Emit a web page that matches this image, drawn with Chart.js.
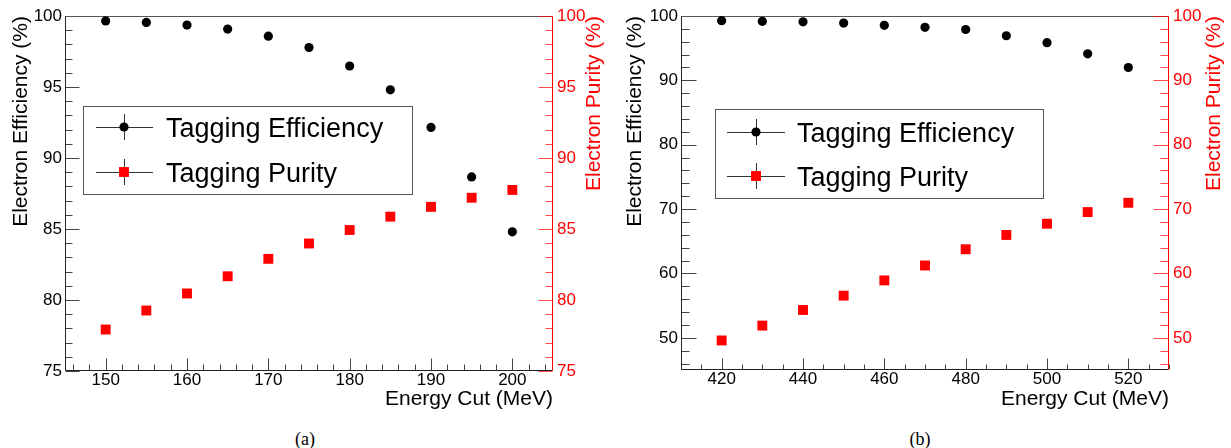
<!DOCTYPE html>
<html>
<head>
<meta charset="utf-8">
<script src="https://cdn.jsdelivr.net/npm/chart.js@4.4.0/dist/chart.umd.min.js"></script>
<style>
  body { margin: 0; background: #fff; width: 1231px; height: 448px; position: relative; overflow: hidden; }
  .panel { position: absolute; top: 0; }
  #panelA { left: 0; }
  #panelB { left: 606px; }
  .caption { position: absolute; top: 428px; font-family: 'Liberation Serif', 'DejaVu Serif', serif; font-size: 18px; line-height: 22px; transform: translateX(-50%); }
</style>
</head>
<body>
<div class="panel" id="panelA"><canvas id="chartA" width="605" height="412"></canvas></div>
<div class="panel" id="panelB"><canvas id="chartB" width="625" height="412"></canvas></div>
<div class="caption" style="left:305px">(a)</div>
<div class="caption" style="left:920px">(b)</div>
<script>
// panel (a)
const energyA = [150, 155, 160, 165, 170, 175, 180, 185, 190, 195, 200];
const effA = [99.65, 99.55, 99.36, 99.08, 98.58, 97.78, 96.48, 94.8, 92.15, 88.67, 84.8];
const purA = [77.92, 79.26, 80.46, 81.67, 82.9, 83.98, 84.93, 85.87, 86.56, 87.2, 87.75];
const xTicksA = [150, 160, 170, 180, 190, 200];
const yTicksA = [75, 80, 85, 90, 95, 100];

// panel (b)
const energyB = [420, 430, 440, 450, 460, 470, 480, 490, 500, 510, 520];
const effB = [99.27, 99.17, 99.1, 98.9, 98.55, 98.24, 97.9, 96.93, 95.85, 94.13, 92.0];
const purB = [49.59, 51.9, 54.33, 56.55, 58.92, 61.24, 63.76, 65.98, 67.73, 69.54, 70.98];
const xTicksB = [420, 440, 460, 480, 500, 520];
const yTicksB = [50, 60, 70, 80, 90, 100];

const FONT = "'Liberation Sans', Arial, Helvetica, sans-serif";
const RED = '#ff0000';

function tickRange(min, max, step) {
    const out = [];
    for (let v = Math.ceil(min / step - 1e-9) * step; v <= max + 1e-9; v += step) {
        out.push(Math.round(v * 1000) / 1000);
    }
    return out;
}

// ROOT style frame with inward ticks + boxed legend
const rootFrame = {
    id: 'rootFrame',
    beforeDatasetsDraw(chart, args, o) {
        const ctx = chart.ctx;
        const a = chart.chartArea;
        const L = Math.round(a.left) + 0.5, R = Math.round(a.right) - 0.5;
        const T = Math.round(a.top) + 0.5, B = Math.round(a.bottom) - 0.5;
        const sx = chart.scales.x, sy = chart.scales.y;
        ctx.save();
        ctx.lineWidth = 1;

        // x ticks
        ctx.strokeStyle = '#444';
        tickRange(sx.min, sx.max, o.xMinor).forEach(v => {
            const px = Math.round(sx.getPixelForValue(v)) + 0.5;
            const len = o.xMajorSet.includes(v) ? o.xMajorLen : o.xMinorLen;
            ctx.beginPath(); ctx.moveTo(px, B); ctx.lineTo(px, B - len); ctx.stroke();
        });
        // left y ticks
        tickRange(sy.min, sy.max, o.yMinor).forEach(v => {
            const py = Math.round(sy.getPixelForValue(v)) + 0.5;
            const len = o.yMajorSet.includes(v) ? o.yMajorLen : o.yMinorLen;
            ctx.beginPath(); ctx.moveTo(L, py); ctx.lineTo(L + len, py); ctx.stroke();
        });
        // frame
        ctx.strokeStyle = '#555';
        ctx.beginPath(); ctx.moveTo(L, T); ctx.lineTo(R, T); ctx.stroke();
        ctx.strokeStyle = '#222';
        ctx.beginPath(); ctx.moveTo(L, T); ctx.lineTo(L, B); ctx.lineTo(R, B); ctx.stroke();
        // right red axis
        const s2 = chart.scales.y2;
        ctx.strokeStyle = 'rgba(255,0,0,0.7)';
        tickRange(s2.min, s2.max, o.yMinor).forEach(v => {
            const py = Math.round(s2.getPixelForValue(v)) + 0.5;
            const len = o.yMajorSet.includes(v) ? o.yMajorLen : o.yMinorLen;
            ctx.beginPath(); ctx.moveTo(R, py); ctx.lineTo(R - len, py); ctx.stroke();
        });
        ctx.strokeStyle = RED;
        ctx.beginPath(); ctx.moveTo(R, T); ctx.lineTo(R, B); ctx.stroke();
        ctx.restore();
    },
    afterDatasetsDraw(chart, args, o) {
        const ctx = chart.ctx;
        const lg = o.legend;
        ctx.save();
        ctx.fillStyle = '#fff';
        ctx.fillRect(lg.x, lg.y, lg.w, lg.h);
        ctx.strokeStyle = '#555';
        ctx.lineWidth = 1;
        ctx.strokeRect(lg.x + 0.5, lg.y + 0.5, lg.w, lg.h);
        chart.data.datasets.forEach((ds, i) => {
            const cy = lg.rows[i];
            ctx.strokeStyle = '#333';
            ctx.beginPath();
            ctx.moveTo(lg.lineFrom, cy + 0.5); ctx.lineTo(lg.lineTo, cy + 0.5);
            ctx.moveTo(lg.markX + 0.5, cy - 13); ctx.lineTo(lg.markX + 0.5, cy + 13);
            ctx.stroke();
            ctx.fillStyle = ds.backgroundColor;
            if (ds.pointStyle === 'rect') {
                const h = ds.pointRadius * Math.SQRT1_2;
                ctx.fillRect(lg.markX - h, cy - h, 2 * h, 2 * h);
            } else {
                ctx.beginPath(); ctx.arc(lg.markX, cy, ds.pointRadius, 0, Math.PI * 2); ctx.fill();
            }
            ctx.fillStyle = '#000';
            ctx.font = '27px ' + FONT;
            ctx.textBaseline = 'alphabetic';
            ctx.fillText(ds.label, lg.textX, cy + 10);
        });

        // right axis title, read bottom-to-top like the left one (ROOT style)
        const a = chart.chartArea;
        ctx.translate(o.rightTitleX, a.top);
        ctx.rotate(-Math.PI / 2);
        ctx.fillStyle = RED;
        ctx.font = '21px ' + FONT;
        ctx.textAlign = 'right';
        ctx.textBaseline = 'middle';
        ctx.fillText(o.rightTitle, 0, 0);
        ctx.restore();
    }
};

function makeChart(id, cfg) {
    const tickFont = { family: FONT, size: 17, lineHeight: 1 };
    const titleFont = { family: FONT, size: 21, lineHeight: 1 };
    return new Chart(document.getElementById(id), {
        type: 'scatter',
        data: {
            datasets: [{
                label: 'Tagging Efficiency',
                data: cfg.energy.map((e, i) => ({ x: e, y: cfg.eff[i] })),
                yAxisID: 'y',
                pointStyle: 'circle',
                pointRadius: 4.6,
                backgroundColor: '#000',
                borderWidth: 0
            }, {
                label: 'Tagging Purity',
                data: cfg.energy.map((e, i) => ({ x: e, y: cfg.pur[i] })),
                yAxisID: 'y2',
                pointStyle: 'rect',
                pointRadius: 7,
                backgroundColor: RED,
                borderWidth: 0
            }]
        },
        options: {
            responsive: false,
            animation: false,
            events: [],
            layout: { padding: { top: 16, left: 0, right: 0, bottom: 0 } },
            plugins: {
                legend: { display: false },
                tooltip: { enabled: false },
                rootFrame: cfg.frame
            },
            scales: {
                x: {
                    type: 'linear',
                    min: cfg.xMin, max: cfg.xMax,
                    afterBuildTicks: s => { s.ticks = cfg.xTicks.map(v => ({ value: v })); },
                    afterFit: s => { s.height = cfg.xHeight; },
                    grid: { display: false, drawTicks: false },
                    border: { display: false },
                    ticks: { color: '#000', font: tickFont, padding: 1, autoSkip: false, maxRotation: 0 },
                    title: { display: true, text: 'Energy Cut (MeV)', align: 'end', color: '#000', font: titleFont, padding: { top: 0, bottom: 2.5 } }
                },
                y: {
                    type: 'linear', position: 'left',
                    min: cfg.yMin, max: 100,
                    afterBuildTicks: s => { s.ticks = cfg.yTicks.map(v => ({ value: v })); },
                    afterFit: s => { s.width = cfg.leftW; },
                    grid: { display: false, drawTicks: false },
                    border: { display: false },
                    ticks: { color: '#000', font: tickFont, padding: 3, autoSkip: false },
                    title: { display: true, text: 'Electron Efficiency (%)', align: 'end', color: '#000', font: titleFont, padding: { top: cfg.leftTitlePad, bottom: 0 } }
                },
                y2: {
                    type: 'linear', position: 'right',
                    min: cfg.yMin, max: 100,
                    afterBuildTicks: s => { s.ticks = cfg.yTicks.map(v => ({ value: v })); },
                    afterFit: s => { s.width = cfg.rightW; },
                    grid: { display: false, drawTicks: false },
                    border: { display: false },
                    ticks: { color: RED, font: tickFont, padding: 4, autoSkip: false },
                    title: { display: false }
                }
            }
        },
        plugins: [rootFrame]
    });
}

makeChart('chartA', {
    energy: energyA, eff: effA, pur: purA,
    xMin: 145, xMax: 205, yMin: 75,
    xTicks: xTicksA, yTicks: yTicksA,
    xHeight: 41, leftW: 65, rightW: 52,
    leftTitlePad: 10.5,
    frame: {
        xMinor: 2, xMajorSet: xTicksA, xMajorLen: 12, xMinorLen: 6,
        yMinor: 1, yMajorSet: yTicksA, yMajorLen: 14, yMinorLen: 7,
        rightTitle: 'Electron Purity (%)', rightTitleX: 594,
        legend: { x: 83, y: 106, w: 329, h: 88, rows: [127, 172], markX: 124, lineFrom: 96, lineTo: 153, textX: 166 }
    }
});

makeChart('chartB', {
    energy: energyB, eff: effB, pur: purB,
    xMin: 410, xMax: 530, yMin: 45,
    xTicks: xTicksB, yTicks: yTicksB,
    xHeight: 42, leftW: 75, rightW: 62,
    leftTitlePad: 18.5,
    frame: {
        xMinor: 5, xMajorSet: xTicksB, xMajorLen: 11, xMinorLen: 5,
        yMinor: 2, yMajorSet: yTicksB, yMajorLen: 15, yMinorLen: 8,
        rightTitle: 'Electron Purity (%)', rightTitleX: 608,
        legend: { x: 109, y: 109, w: 328, h: 89, rows: [132, 176], markX: 150, lineFrom: 121, lineTo: 179, textX: 191 }
    }
});
</script>
</body>
</html>
